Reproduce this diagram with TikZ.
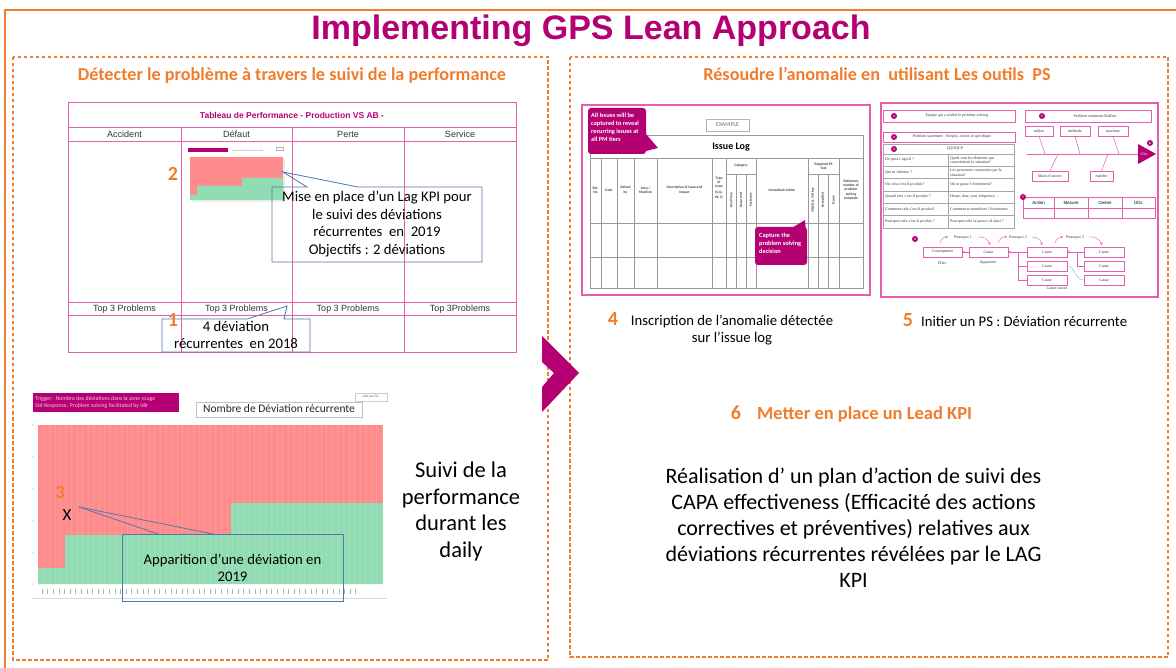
\documentclass[tikz,border=0pt]{standalone}
\usepackage{fontspec}
\setmainfont{Carlito}
\newfontfamily\arialf{Liberation Sans}
\newfontfamily\serifps{Liberation Serif}
\usetikzlibrary{arrows.meta}
\newcommand{\fsz}[2]{\fontsize{#1}{#2}\selectfont}
\definecolor{magT}{RGB}{180,0,115}
\definecolor{orgC}{RGB}{240,125,45}
\definecolor{pinkL}{RGB}{228,95,172}
\definecolor{blueB}{RGB}{80,120,170}
\definecolor{redF}{RGB}{255,140,140}
\definecolor{greenF}{RGB}{145,220,178}
\definecolor{trigT}{RGB}{255,200,230}
\begin{document}
\begin{tikzpicture}[x=1pt,y=-1pt,
  odash/.style={draw=orgC, line width=1.1pt, dash pattern=on 3.5pt off 2.5pt},
  pk/.style={draw=pinkL, line width=0.8pt},
  callout/.style={draw=blueB, line width=0.8pt},
  txt/.style={inner sep=0pt, anchor=base},
  num/.style={inner sep=0pt, anchor=base, text=orgC, font=\bfseries\fsz{20}{24}},
  gl/.style={draw=black!40, line width=0.4pt},
  tinyB/.style={inner sep=0pt, font=\bfseries\fsz{3.6}{4.1}, align=center, text=black!75},
  tinyS/.style={inner sep=0pt, font=\serifps\fsz{4}{4.6}, align=center, text=black!80},
  pc/.style={circle, fill=magT, inner sep=0pt, minimum size=6pt, text=white, font=\bfseries\fsz{3.5}{4}},
  pbox/.style={draw=pinkL, line width=0.5pt},
  pbx/.style={draw=pinkL, line width=0.5pt, minimum height=10pt, inner sep=0pt, font=\serifps\fsz{4}{4.6}, text=black!80},
  marr/.style={draw=pinkL, line width=0.5pt, -{Stealth[length=2.5pt,width=2.5pt]}},
  mcall/.style={fill=magT, rounded corners=3pt},
]
\useasboundingbox (0,0) rectangle (1176,668);
\fill[white] (0,0) rectangle (1176,668);

% outer frame
\draw[orgC, line width=1.5pt] (5,668) -- (5,10) -- (1176,10);
\node[txt, font=\arialf\bfseries\fsz{34}{40}, text=magT] (title) at (591,40) {Implementing GPS Lean Approach};

% panels
\draw[odash] (13,57) rectangle (548,660);
\draw[odash] (570,57) rectangle (1168,657);
\node[txt, font=\bfseries\fsz{18.2}{22}, text=orgC] (sub1) at (292,81) {Détecter le problème à travers le suivi de la performance};
\node[txt, font=\bfseries\fsz{18.2}{22}, text=orgC] (sub2) at (877,81) {Résoudre l’anomalie en \ utilisant Les outils \ PS};

% ---------- left table
\draw[pk] (68,102) rectangle (516,352);
\draw[pk] (68,127) -- (516,127);
\draw[pk] (68,141) -- (516,141);
\draw[pk] (68,302) -- (516,302);
\draw[pk] (68,315) -- (516,315);
\foreach \x in {181,292,404} \draw[pk] (\x,127) -- (\x,352);
\node[txt, font=\arialf\bfseries\fsz{8.5}{10}, text=magT] (tabtitle) at (292,118.5) {Tableau de Performance - Production VS AB -};
\node[txt, font=\arialf\fsz{9}{10}, text=black!80] (hA) at (124.5,138) {Accident};
\node[txt, font=\arialf\fsz{9}{10}, text=black!80] (hD) at (236.5,138) {Défaut};
\node[txt, font=\arialf\fsz{9}{10}, text=black!80] (hP) at (348,138) {Perte};
\node[txt, font=\arialf\fsz{9}{10}, text=black!80] (hS) at (460,138) {Service};
\node[txt, font=\arialf\fsz{9}{10}, text=black!80] (tA) at (124.5,312) {Top 3 Problems};
\node[txt, font=\arialf\fsz{9}{10}, text=black!80] (tD) at (236.5,312) {Top 3 Problems};
\node[txt, font=\arialf\fsz{9}{10}, text=black!80] (tP) at (348,312) {Top 3 Problems};
\node[txt, font=\arialf\fsz{9}{10}, text=black!80] (tS) at (460,312) {Top 3Problems};

% mini chart
\fill[magT] (188,148) rectangle (228,152);
\node[inner sep=0pt, font=\fsz{2.3}{2.6}, text=black!50] (minilab) at (248,150.5) {Nombre de Déviation récurrente};
\draw[black!30, line width=0.3pt] (276,147) rectangle (283,150);
\fill[black!8] (192,159) rectangle (285,202);
\fill[redF] (190,157) rectangle (283,200);
\fill[greenF] (190,200) -- (190,195) -- (197,195) -- (197,186) -- (242,186) -- (242,178) -- (283,178) -- (283,200) -- cycle;
\node[num] (n2) at (173,181) {2};

% callout Lag KPI
\draw[callout] (307,187) -- (283,172) -- (358,187) -- (482,187) -- (482,262) -- (272,262) -- (272,187) -- cycle;
\node[inner sep=0pt, align=center, font=\fsz{14.7}{17.5}] (lagtxt) at (377,224.3) {Mise en place d’un Lag KPI pour\\le suivi des déviations\\récurrentes \ en \ 2019\\Objectifs : 2 déviations};

% callout 2018
\draw[callout] (247,319) -- (287,306) -- (284,319) -- (310,319) -- (310,352) -- (162,352) -- (162,319) -- cycle;
\node[inner sep=0pt, align=center, font=\fsz{14.7}{17}] (dev18) at (236,335) {4 déviation\\récurrentes \ en 2018};
\node[num] (n1) at (173,327) {1};

% ---------- bottom-left chart
\fill[magT] (33,393) rectangle (179,412);
\node[inner sep=0pt, anchor=west, align=left, font=\fsz{5.8}{7.8}, text=trigT] (trig) at (35,402.5) {Trigger:\ \ Nombre des déviations dans la zone rouge\\Std Response: Problem solving facilitated by Idir};
\draw[black!25, line width=0.5pt] (196,402) rectangle (362,417);
\node[txt, font=\fsz{11.5}{13}, text=black!85] (nbdev) at (279,413) {Nombre de Déviation récurrente};
\draw[black!20, line width=0.4pt] (355,393) rectangle (387,401);
\node[inner sep=0pt, font=\fsz{3.5}{4}, text=black!60] (maipar) at (371,397) {Mai par FLL};
\fill[redF] (38,425) rectangle (383,584);
\fill[greenF] (38,584) -- (38,568) -- (65,568) -- (65,535) -- (231,535) -- (231,503) -- (383,503) -- (383,584) -- cycle;
\foreach \i in {1,...,62} \draw[white, opacity=0.12, line width=0.3pt] ({38+5.55*\i},425) -- ({38+5.55*\i},584);
\foreach \y in {425,457,489,521,553,584} \fill[black!40] (33,\y) circle (0.6);
\foreach \i in {0,...,56} \draw[black!30, line width=0.45pt] ({42+5.6*\i},588.5) -- ({42+5.6*\i},594);
\draw[black!15, line width=0.6pt] (32,598) -- (387,598);
\node[num, font=\bfseries\fsz{19}{22}] (n3) at (60,498) {3};
\node[txt, font=\fsz{17}{20}] (xmark) at (67,520) {X};
\coordinate (xtip) at (79,507);
\draw[callout] (122,534) rectangle (343,601);
\draw[callout] (xtip) -- (158,534);
\draw[callout] (xtip) -- (213,534);
\node[inner sep=0pt, align=center, font=\fsz{14.7}{17}] (appar) at (232.5,567.8) {Apparition d’une déviation en\\2019};

\node[inner sep=0pt, align=center, font=\fsz{22.5}{26.7}] (suivi) at (461,511.5) {Suivi de la\\performance\\durant les\\daily};

% chevron
\fill[magT] (542,336) -- (579,373) -- (542,412) -- (542,387) -- (554,373) -- (542,362) -- cycle;

% ---------- Issue log screenshot
\fill[white] (582,105) rectangle (870,295);
\draw[pinkL, line width=1.2pt] (582,105) rectangle (870,295);
\draw[gl] (590,135) rectangle (863,288);
\draw[gl] (590,158) -- (863,158);
\draw[gl] (590,223) -- (863,223);
\draw[gl] (590,257) -- (863,257);
\foreach \x in {601,617,634,657,712,726,756,808,839} \draw[gl] (\x,158) -- (\x,288);
\foreach \x in {736,746,818,828} \draw[gl] (\x,174) -- (\x,288);
\draw[gl] (726,174) -- (756,174);
\draw[gl] (808,174) -- (839,174);
\draw[black!30, line width=0.5pt] (706,119) rectangle (749,131);
\node[inner sep=0pt, font=\fsz{6}{7}, text=black!55] (example) at (727.5,125) {EXAMPLE};
\node[txt, font=\bfseries\fsz{10}{12}] (issuelog) at (731,150) {Issue Log};
\node[tinyB] (hRef) at (595.5,190) {Ref.\\No};
\node[tinyB] (hDate) at (609,190) {Date};
\node[tinyB] (hRaised) at (625.5,190) {Raised\\by};
\node[tinyB] (hArea) at (645.5,190) {Area /\\Machine};
\node[tinyB] (hDesc) at (684.5,190) {Description of issue and\\impact};
\node[tinyB] (hType) at (719,188) {Type\\of\\issue\\[2pt](S,Q,\\W, C)};
\node[tinyB] (hCat) at (741,166) {Category};
\node[tinyB, rotate=90] (hRT) at (731,200) {Real Time};
\node[tinyB, rotate=90] (hRec) at (741,200) {Recurrent};
\node[tinyB, rotate=90] (hSys) at (751,200) {Systemic};
\node[tinyB] (hImm) at (782,190) {Immediate Action};
\node[tinyB] (hReq) at (823.5,166) {Required PS\\Tool};
\node[tinyB, rotate=90] (h5w) at (813,200) {5W2H \& 5 Whys};
\node[tinyB, rotate=90] (h8s) at (823,200) {8 step RCA};
\node[tinyB, rotate=90] (hNone) at (833.5,200) {None};
\node[tinyB] (hRefn) at (851,190) {Reference\\number of\\problem\\solving\\template};
% magenta callouts
\fill[magT] (646,134) -- (658,148) -- (642,152) -- cycle;
\fill[mcall] (588,108) rectangle (646,154);
\node[inner sep=0pt, anchor=north west, align=left, font=\bfseries\fsz{6.3}{8}, text=white] (allis) at (591,113) {All Issues will be\\captured to reveal\\recurring issues at\\all PM tiers};
\fill[magT] (790,229) -- (805,220) -- (806,233) -- cycle;
\fill[mcall] (755,227) rectangle (807,265);
\node[inner sep=0pt, anchor=north west, align=left, font=\bfseries\fsz{6.3}{8}, text=white] (captps) at (759,233) {Capture the\\problem solving\\decision};

\node[num] (n4) at (613,326) {4};
\node[inner sep=0pt, align=center, font=\fsz{14.7}{17}] (s4) at (732,330) {Inscription de l’anomalie détectée\\sur l’issue log};

% ---------- PS template screenshot
\fill[white] (881,103) rectangle (1158,297);
\draw[pinkL, line width=1.2pt] (881,103) rectangle (1158,297);
\draw[pbox] (883,110) rectangle (1015,122);
\node[pc] (c1) at (894,116) {1};
\node[tinyS] (t1) at (957,116) {Equipe qui a réalisé le problem solving};
\draw[pbox] (883,132) rectangle (1015,142);
\node[pc] (c2) at (894,137) {2};
\node[tinyS] (t2) at (952,137) {Problem statement : Simple, concis et spécifique};
\draw[black!35, line width=0.4pt] (883,144) rectangle (1014,228);
\draw[black!35, line width=0.4pt] (883,154) -- (1014,154);
\foreach \y in {166.3,178.7,191,203.3,215.7} \draw[black!35, line width=0.4pt] (883,\y) -- (1014,\y);
\draw[black!35, line width=0.4pt] (948,154) -- (948,228);
\node[pc] (c3) at (894,149) {3};
\node[tinyS] (tq) at (955,149) {QQOQCP};
\node[tinyS, anchor=west, align=left] (q1) at (885,160) {De quoi s’agit-il ?};
\node[tinyS, anchor=west, align=left] (r1) at (950,160) {Quels sont les éléments qui\\caractérisent la situation?};
\node[tinyS, anchor=west, align=left] (q2) at (885,172.5) {Qui m’informe ?};
\node[tinyS, anchor=west, align=left] (r2) at (950,172.5) {Les personnes concernées par la\\situation?};
\node[tinyS, anchor=west, align=left] (q3) at (885,185) {Où cela s’est-il produit ?};
\node[tinyS, anchor=west, align=left] (r3) at (950,185) {Où se passe l’événement?};
\node[tinyS, anchor=west, align=left] (q4) at (885,197) {Quand cela s’est-il produit ?};
\node[tinyS, anchor=west, align=left] (r4) at (950,197) {Heure, date, jour, fréquence ...};
\node[tinyS, anchor=west, align=left] (q5) at (885,209.5) {Comment cela s’est-il produit?};
\node[tinyS, anchor=west, align=left] (r5) at (950,209.5) {Comment se manifeste l’événement};
\node[tinyS, anchor=west, align=left] (q6) at (885,222) {Pourquoi cela s’est-il produit ?};
\node[tinyS, anchor=west, align=left] (r6) at (950,222) {Pourquoi cela se passe-t-il ainsi ?};

\draw[pbox] (1025,110) rectangle (1151,122);
\node[pc] (c5) at (1042,116) {5};
\node[tinyS] (t5) at (1095,116) {Problem statement Raffiné};
% fishbone
\draw[pbox] (1027,154) -- (1140,154);
\node[pbx, minimum width=28pt] (milieu) at (1039,131) {milieu};
\node[pbx, minimum width=30pt] (methode) at (1075,131) {méthode};
\node[pbx, minimum width=30pt] (machine) at (1113,131) {machine};
\node[pbx, minimum width=36pt] (mainoe) at (1050,176) {Main d’oeuvre};
\node[pbx, minimum width=23pt] (matiere) at (1101.5,176) {matière};
\draw[pbox] (milieu.south) -- (1045,154);
\draw[pbox] (methode.south) -- (1080,154);
\draw[pbox] (machine.south) -- (1119,154);
\draw[pbox] (1058,154) -- (mainoe.north);
\draw[pbox] (1108,154) -- (matiere.north);
\fill[magT] (1138,144) -- (1156,154) -- (1138,164) -- cycle;
\node[inner sep=0pt, font=\serifps\fsz{3.5}{4}, text=white] (effet) at (1144,154) {Effet};
\node[pc] (c6) at (1150,143) {6};
% action plan
\draw[pbox] (1023,197) rectangle (1155,218);
\draw[pbox] (1023,208) -- (1155,208);
\foreach \x in {1054,1088,1122} \draw[pbox] (\x,197) -- (\x,218);
\node[inner sep=0pt, font=\arialf\fsz{4.5}{5}] (aA) at (1038.5,202.5) {Action};
\node[inner sep=0pt, font=\arialf\fsz{4.5}{5}] (aM) at (1071,202.5) {Mesure};
\node[inner sep=0pt, font=\arialf\fsz{4.5}{5}] (aO) at (1105,202.5) {Owner};
\node[inner sep=0pt, font=\arialf\fsz{4.5}{5}] (aD) at (1138.5,202.5) {DDL};
\node[pc] (c7) at (1023,197) {7};
% 5 why
\node[pc] (c4) at (915,239) {4};
\node[pbx, minimum width=39pt] (cq) at (942.5,252) {Conséquence};
\node[pbx, minimum width=39pt] (ca1) at (988.5,252) {Cause};
\node[pbx, minimum width=40pt] (cb1) at (1047,252) {Cause};
\node[pbx, minimum width=40pt] (cb2) at (1047,266) {Cause};
\node[pbx, minimum width=40pt] (cb3) at (1047,280) {Cause};
\node[pbx, minimum width=40pt] (cc1) at (1104,252) {Cause};
\node[pbx, minimum width=40pt] (cc2) at (1104,266) {Cause};
\node[pbx, minimum width=40pt] (cc3) at (1104,280) {Cause};
\draw[marr] (ca1.west) -- (cq.east);
\draw[marr] (cb1.west) -- (ca1.east);
\draw[marr] (cc1.west) -- (cb1.east);
\draw[pbox] (1018,252) |- (cb3.west);
\draw[pbox] (1018,266) -- (cb2.west);
\draw[pbox] (1077,252) |- (cc2.west);
\draw[blueB!60, line width=0.4pt] (cc3.west) .. controls (1075,280) and (1075,266) .. (cb2.east);
\node[tinyS] (pq1) at (963,238) {Pourquoi 1};
\node[tinyS] (pq2) at (1018,238) {Pourquoi 2};
\node[tinyS] (pq3) at (1075,238) {Pourquoi 3};
\node[tinyS] (leff) at (942,263) {Effet};
\node[tinyS] (lapp) at (988,263) {Apparente};
\node[tinyS] (lrac) at (1057,288) {Cause racine};
\draw[marr, line width=0.4pt] (940,243) to[bend left=40] (948,237);
\draw[marr, line width=0.4pt] (978,237) to[bend left=40] (990,245);
\draw[marr, line width=0.4pt] (998,243) to[bend left=40] (1007,237);
\draw[marr, line width=0.4pt] (1032,237) to[bend left=40] (1042,245);
\draw[marr, line width=0.4pt] (1055,243) to[bend left=40] (1063,237);
\draw[marr, line width=0.4pt] (1088,237) to[bend left=40] (1102,245);

\node[num] (n5) at (908,327) {5};
\node[txt, anchor=base west, font=\fsz{14.7}{17}] (s5) at (921,327) {Initier un PS : Déviation récurrente};

\node[num] (n6) at (736,420) {6};
\node[txt, anchor=base west, text=orgC, font=\bfseries\fsz{18.5}{22}] (s6) at (757,420) {Metter en place un Lead KPI};

\node[inner sep=0pt, align=center, font=\fsz{22}{26}] (capa) at (853.5,527.5) {Réalisation d’ un plan d’action de suivi des\\CAPA effectiveness (Efficacité des actions\\correctives et préventives) relatives aux\\déviations récurrentes révélées par le LAG\\KPI};
\end{tikzpicture}
\end{document}
